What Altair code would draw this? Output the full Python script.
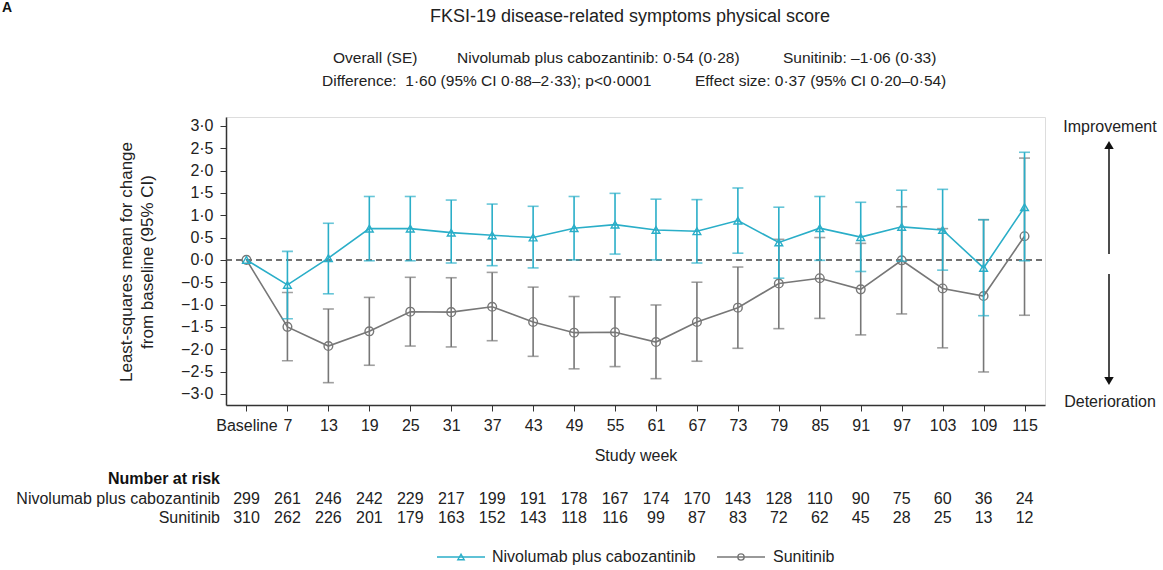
import altair as alt
import pandas as pd

FONT = "Liberation Sans"
CYAN = "#2aaec8"
GRAY = "#777777"

weeks = ["Baseline", "7", "13", "19", "25", "31", "37", "43", "49", "55",
         "61", "67", "73", "79", "85", "91", "97", "103", "109", "115"]

nivo_mean = [0, -0.56, 0.04, 0.70, 0.70, 0.61, 0.55, 0.50, 0.71, 0.79,
             0.67, 0.64, 0.88, 0.39, 0.71, 0.51, 0.74, 0.67, -0.18, 1.18]
nivo_lo = [0, -1.32, -0.76, -0.02, -0.02, -0.07, -0.13, -0.18, 0.00, 0.13,
           0.00, -0.07, 0.15, -0.41, -0.01, -0.26, -0.03, -0.23, -1.25, -0.02]
nivo_hi = [0, 0.19, 0.82, 1.42, 1.42, 1.34, 1.25, 1.20, 1.42, 1.49,
           1.36, 1.35, 1.61, 1.18, 1.42, 1.29, 1.56, 1.58, 0.90, 2.41]

suni_mean = [0, -1.50, -1.93, -1.60, -1.16, -1.17, -1.05, -1.39, -1.63, -1.62,
             -1.84, -1.39, -1.07, -0.53, -0.41, -0.66, -0.01, -0.64, -0.81, 0.53]
suni_lo = [0, -2.26, -2.75, -2.36, -1.93, -1.95, -1.81, -2.16, -2.44, -2.39,
           -2.66, -2.27, -1.98, -1.54, -1.31, -1.68, -1.21, -1.97, -2.51, -1.24]
suni_hi = [0, -0.73, -1.10, -0.84, -0.39, -0.40, -0.28, -0.61, -0.82, -0.83,
           -1.01, -0.50, -0.16, 0.46, 0.50, 0.37, 1.19, 0.70, 0.90, 2.28]

nivo_n = [299, 261, 246, 242, 229, 217, 199, 191, 178, 167,
          174, 170, 143, 128, 110, 90, 75, 60, 36, 24]
suni_n = [310, 262, 226, 201, 179, 163, 152, 143, 118, 116,
          99, 87, 83, 72, 62, 45, 28, 25, 13, 12]

y_ticks = [-3.0, -2.5, -2.0, -1.5, -1.0, -0.5, 0.0, 0.5, 1.0, 1.5, 2.0, 2.5, 3.0]

W, H = 819, 288

nivo = pd.DataFrame({"week": weeks, "mean": nivo_mean, "lo": nivo_lo, "hi": nivo_hi, "n": nivo_n})
suni = pd.DataFrame({"week": weeks, "mean": suni_mean, "lo": suni_lo, "hi": suni_hi, "n": suni_n})

X = alt.X("week:N", sort=weeks,
          scale=alt.Scale(type="point", padding=0.5),
          axis=alt.Axis(title="Study week", labelAngle=0, labelAlign="center",
                        labelBaseline="top", labelFlush=False, labelOverlap=False,
                        labelFontSize=16, labelColor="#222", labelFont=FONT,
                        labelPadding=6, tickSize=6, tickColor="#333",
                        domainColor="#333", domainWidth=1.5, titleFontSize=16,
                        titleFont=FONT, titleFontWeight="normal", titleColor="#222",
                        titlePadding=14, grid=False))

yscale = alt.Scale(domain=[-3.25, 3.2], nice=False, zero=False)
yaxis = alt.Axis(title=None, values=y_ticks,
                 labelExpr="replace(replace(format(datum.value, '.1f'), '.', '·'), '-', '−')",
                 labelFontSize=16, labelColor="#222", labelFont=FONT,
                 labelOverlap=False, labelPadding=7, tickSize=6, tickColor="#333",
                 domainColor="#333", domainWidth=1.5, grid=False)


def Y(field):
    return alt.Y(field, scale=yscale, axis=yaxis)


def series(df, color, shape, size):
    base = alt.Chart(df)
    eb = alt.Chart(df[df["lo"] != df["hi"]])
    rule = eb.mark_rule(color=color, strokeWidth=1.6).encode(
        x=X, y=Y("lo:Q"), y2="hi:Q")
    cap_lo = eb.mark_tick(color=color, thickness=1.6, size=11).encode(
        x=X, y=Y("lo:Q"))
    cap_hi = eb.mark_tick(color=color, thickness=1.6, size=11).encode(
        x=X, y=Y("hi:Q"))
    line = base.mark_line(color=color, strokeWidth=1.6).encode(x=X, y=Y("mean:Q"))
    pts = base.mark_point(shape=shape, filled=False, color=color, size=size,
                          strokeWidth=1.4, opacity=1).encode(x=X, y=Y("mean:Q"))
    return [rule, cap_lo, cap_hi, line, pts]


zero = alt.Chart(alt.Data(values=[{}])).mark_rule(
    color="#444", strokeDash=[6, 4], strokeWidth=1.5).encode(
    y=alt.datum(0, scale=yscale, axis=yaxis), x=alt.value(0), x2=alt.value(W))


def txt(s, x, y, align="left", size=15, weight="normal", color="#222", angle=None, lh=None):
    kw = dict(text=s, align=align, baseline="middle", fontSize=size,
              fontWeight=weight, color=color, font=FONT)
    if angle is not None:
        kw["angle"] = angle
    if lh is not None:
        kw["lineHeight"] = lh
    return alt.Chart(alt.Data(values=[{}])).mark_text(**kw).encode(
        x=alt.value(x), y=alt.value(y))


NB = "\u00a0"
annots = [
    txt("A", -224, -109, size=14, weight="bold", color="#111"),
    txt("FKSI-19 disease-related symptoms physical score", 404, -100, align="center", size=18),
    txt("Overall (SE)", 107, -59, size=15.5),
    txt("Nivolumab plus cabozantinib: 0·54 (0·28)", 231, -59, size=15.5),
    txt("Sunitinib: –1·06 (0·33)", 557, -59, size=15.5),
    txt("Difference:" + NB + NB + "1·60 (95% CI 0·88–2·33); p<0·0001", 96, -36, size=15.5),
    txt("Effect size: 0·37 (95% CI 0·20–0·54)", 469, -36, size=15.5),
    txt(["Least-squares mean for change", "from baseline (95% CI)"], -99, 145,
        align="center", size=17, angle=270, lh=21),
    txt("Improvement", 884, 10, align="center", size=16),
    txt("Deterioration", 884, 285, align="center", size=16),
    txt("Number at risk", -6, 362, align="right", size=16, weight="bold", color="#111"),
    txt("Nivolumab plus cabozantinib", -6, 382, align="right", size=16),
    txt("Sunitinib", -6, 401, align="right", size=16),
    txt("Nivolumab plus cabozantinib", 266, 440, size=16),
    txt("Sunitinib", 547, 440, size=16),
]

one = alt.Data(values=[{}])
arrows = [
    alt.Chart(one).mark_rule(color="#111", strokeWidth=1.5).encode(
        x=alt.value(883), y=alt.value(30), y2=alt.value(137)),
    alt.Chart(one).mark_point(shape="triangle-up", filled=True, color="#111", size=90, opacity=1).encode(
        x=alt.value(883), y=alt.value(28)),
    alt.Chart(one).mark_rule(color="#111", strokeWidth=1.5).encode(
        x=alt.value(883), y=alt.value(157), y2=alt.value(262)),
    alt.Chart(one).mark_point(shape="triangle-down", filled=True, color="#111", size=90, opacity=1).encode(
        x=alt.value(883), y=alt.value(264)),
]

legend = [
    alt.Chart(one).mark_rule(color=CYAN, strokeWidth=1.6).encode(
        x=alt.value(211), x2=alt.value(259), y=alt.value(440)),
    alt.Chart(one).mark_point(shape="triangle-up", filled=False, color=CYAN, size=40, strokeWidth=1.4, opacity=1).encode(
        x=alt.value(235), y=alt.value(440)),
    alt.Chart(one).mark_rule(color=GRAY, strokeWidth=1.6).encode(
        x=alt.value(491), x2=alt.value(539), y=alt.value(440)),
    alt.Chart(one).mark_point(shape="circle", filled=False, color=GRAY, size=40, strokeWidth=1.4, opacity=1).encode(
        x=alt.value(515), y=alt.value(440)),
]

risk = []
for df, yy in ((nivo, 382), (suni, 401)):
    risk.append(alt.Chart(df).mark_text(fontSize=16, font=FONT, color="#222", baseline="middle").encode(
        x=X, y=alt.value(yy), text="n:Q"))

layers = series(suni, GRAY, "circle", 75) + series(nivo, CYAN, "triangle-up", 60)
chart = alt.layer(zero, *layers, *risk, *annots, *arrows, *legend).properties(
    width=W, height=H,
    autosize=alt.AutoSizeParams(type="none"),
    padding={"left": 226, "top": 117, "right": 118, "bottom": 165},
).configure_view(stroke=None).configure(background="white")

chart.save("out.html", embed_options={"renderer": "svg", "actions": False})
